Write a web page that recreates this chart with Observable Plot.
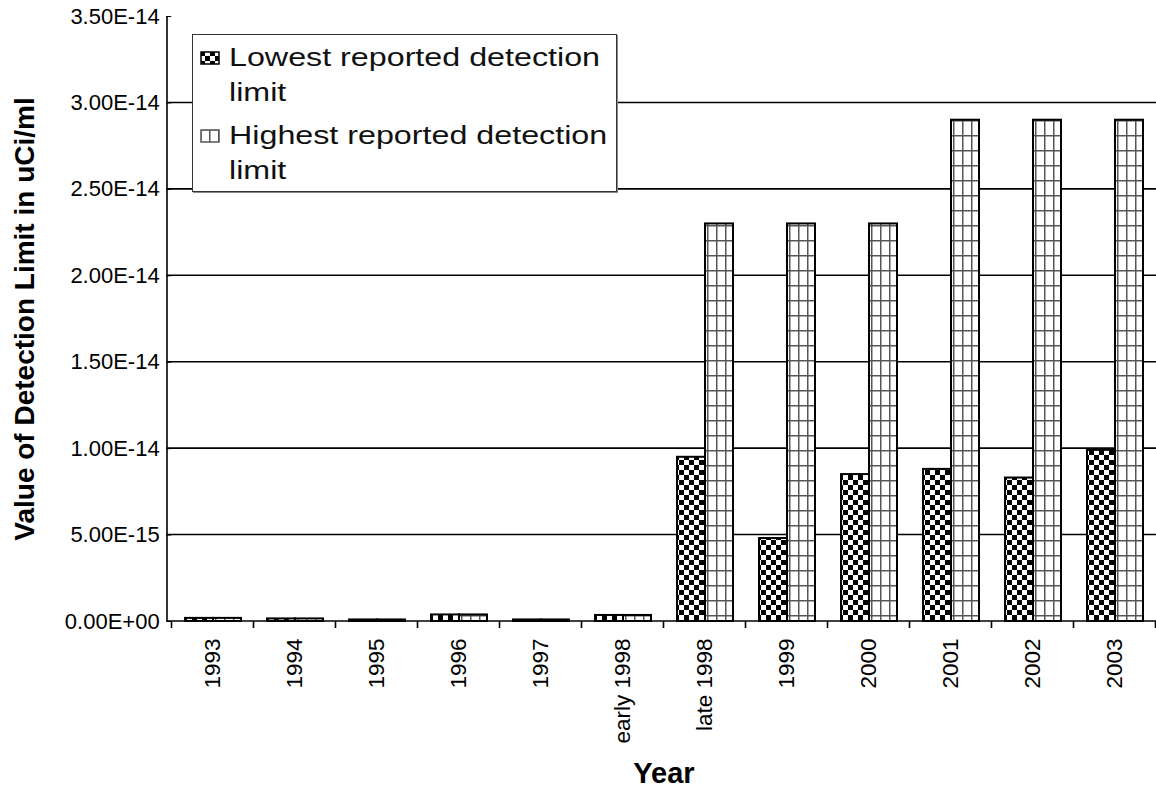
<!DOCTYPE html>
<html>
<head>
<meta charset="utf-8">
<script src="https://cdn.jsdelivr.net/npm/d3@7"></script>
<script src="https://cdn.jsdelivr.net/npm/@observablehq/plot@0.6"></script>
<style>
  html, body { margin: 0; padding: 0; background: white; overflow: hidden; }
  #wrap { position: relative; width: 1156px; height: 790px; font-family: "Liberation Sans", Arial, sans-serif; }
  #legend {
    position: absolute; left: 192px; top: 34px; width: 425px; height: 158px;
    box-sizing: border-box; background: white;
    border: 1.5px solid #333; box-shadow: 1px 1px 0 #888;
    padding: 5px 0 0 7px; font-size: 26px; line-height: 35px; color: #111;
  }
  .entry { display: flex; align-items: flex-start; }
  .entry + .entry { margin-top: 8px; }
  .entry svg { flex: none; margin-top: 11px; margin-right: 9px; }
  .entry .txt { transform: scaleX(1.24); transform-origin: 0 0; white-space: nowrap; }
</style>
</head>
<body>
<div id="wrap"></div>
<script>
// ---- data ----
const categories = ["1993", "1994", "1995", "1996", "1997", "early 1998", "late 1998", "1999", "2000", "2001", "2002", "2003"];
const lowest  = [1.8e-16, 1.5e-16, 0.9e-16, 3.8e-16, 0.9e-16, 3.5e-16, 9.5e-15, 4.8e-15, 8.5e-15, 8.8e-15, 8.3e-15, 9.9e-15];
const highest = [1.8e-16, 1.5e-16, 0.9e-16, 3.8e-16, 0.9e-16, 3.5e-16, 2.3e-14, 2.3e-14, 2.3e-14, 2.9e-14, 2.9e-14, 2.9e-14];
const seriesNames = ["Lowest reported detection limit", "Highest reported detection limit"];
const yTicks = [0, 5e-15, 1e-14, 1.5e-14, 2e-14, 2.5e-14, 3e-14, 3.5e-14];
const yLabel = "Value of Detection Limit in uCi/ml";
const xLabel = "Year";

const rows = [];
categories.forEach((c, i) => {
  rows.push({year: c, series: seriesNames[0], value: lowest[i]});
  rows.push({year: c, series: seriesNames[1], value: highest[i]});
});

const fmt = v => {
  const s = (+v).toExponential(2).toUpperCase();
  return s.replace(/E([+-])(\d)$/, "E$10$2");
};

const W = 1156, H = 790, ML = 167, MR = -4, MT = 16, MB = 169;
const padInner = 0.31, padOuter = 0.155;
// facet frames start half a gap inside the plot area; shift the y axis back to the plot edge
const facetShift = (W - ML - MR) / categories.length * padOuter;

const plot = Plot.plot({
  width: W,
  height: H,
  marginLeft: ML,
  marginRight: MR,
  marginTop: MT,
  marginBottom: MB,
  style: {fontFamily: "'Liberation Sans', Arial, sans-serif", color: "black", background: "white", overflow: "visible"},
  fx: {domain: categories, paddingInner: padInner, paddingOuter: padOuter, label: null},
  x: {domain: seriesNames, padding: 0, axis: null},
  y: {domain: [0, 3.5e-14], label: null},
  marks: [
    Plot.barY(rows.filter(d => d.series === seriesNames[0]), {fx: "year", x: "series", y: "value", fill: "url(#checker)", stroke: "black", strokeWidth: 2}),
    Plot.barY(rows.filter(d => d.series === seriesNames[1]), {fx: "year", x: "series", y: "value", fill: "url(#gridpat)", stroke: "black", strokeWidth: 2}),
    Plot.axisY({ticks: yTicks, tickFormat: fmt, tickSize: 5, tickPadding: 7, fontSize: 22, label: null, dx: -facetShift}),
    Plot.axisY({ticks: [], label: yLabel, labelAnchor: "center", labelArrow: "none", labelOffset: 170, fontSize: 28, fontWeight: "bold", dx: -facetShift}),
    Plot.axisFx({anchor: "bottom", tickSize: 0, tickPadding: 17, tickRotate: -90, fontSize: 22.5, label: null}),
    Plot.axisFx({anchor: "bottom", ticks: [], label: xLabel, labelAnchor: "center", labelOffset: 161, fontSize: 29, fontWeight: "bold"})
  ]
});

// patterns
const svg = d3.select(plot);
const defs = svg.insert("defs", ":first-child");
const chk = defs.append("pattern").attr("id", "checker").attr("patternUnits", "userSpaceOnUse").attr("width", 10).attr("height", 10);
chk.append("rect").attr("width", 10).attr("height", 10).attr("fill", "white");
chk.append("rect").attr("width", 5).attr("height", 5).attr("fill", "black");
chk.append("rect").attr("x", 5).attr("y", 5).attr("width", 5).attr("height", 5).attr("fill", "black");
const grd = defs.append("pattern").attr("id", "gridpat").attr("patternUnits", "userSpaceOnUse").attr("width", 9).attr("height", 15);
grd.append("rect").attr("width", 9).attr("height", 15).attr("fill", "white");
grd.append("path").attr("d", "M0.75,0V15M0,0.75H9").attr("stroke", "#555").attr("stroke-width", 1.5).attr("fill", "none");

// gridlines, axis lines and category boundary ticks, placed through Plot's scales
const fx = plot.scale("fx");
const ys = plot.scale("y");
const y0 = ys.apply(0);
const xLeft = fx.range[0], xRight = fx.range[1];
const half = (fx.step - fx.bandwidth) / 2;
const bounds = categories.map(c => fx.apply(c) - half);
bounds.push(fx.apply(categories[categories.length - 1]) + fx.bandwidth + half);

const gGrid = document.createElementNS("http://www.w3.org/2000/svg", "g");
plot.insertBefore(gGrid, plot.children[1]);
d3.select(gGrid).selectAll("line").data(yTicks.filter(v => v > 0 && v < 3.5e-14)).join("line")
  .attr("x1", xLeft).attr("x2", xRight)
  .attr("y1", d => ys.apply(d)).attr("y2", d => ys.apply(d))
  .attr("stroke", "black").attr("stroke-width", 1.6);

const gAx = svg.append("g").attr("stroke", "black").attr("stroke-width", 1.6);
gAx.append("line").attr("x1", xLeft).attr("x2", xRight).attr("y1", y0).attr("y2", y0);
gAx.append("line").attr("x1", xLeft).attr("x2", xLeft).attr("y1", ys.apply(3.5e-14)).attr("y2", y0);
gAx.selectAll("line.b").data(bounds).join("line").attr("class", "b")
  .attr("x1", d => d).attr("x2", d => d)
  .attr("y1", y0).attr("y2", y0 + 7);

const wrap = document.getElementById("wrap");
wrap.appendChild(plot);

// legend
const legend = document.createElement("div");
legend.id = "legend";
const fills = ["url(#checker)", "url(#gridpat)"];
const lines = [["Lowest reported detection", "limit"], ["Highest reported detection", "limit"]];
lines.forEach((ls, i) => {
  const e = document.createElement("div");
  e.className = "entry";
  e.innerHTML = `<svg width="20" height="14"><rect x="1" y="1" width="18" height="12" fill="${fills[i]}" stroke="${i === 0 ? "black" : "#555"}" stroke-width="1.5"/></svg><div class="txt">${ls[0]}<br>${ls[1]}</div>`;
  legend.appendChild(e);
});
wrap.appendChild(legend);
</script>
</body>
</html>
